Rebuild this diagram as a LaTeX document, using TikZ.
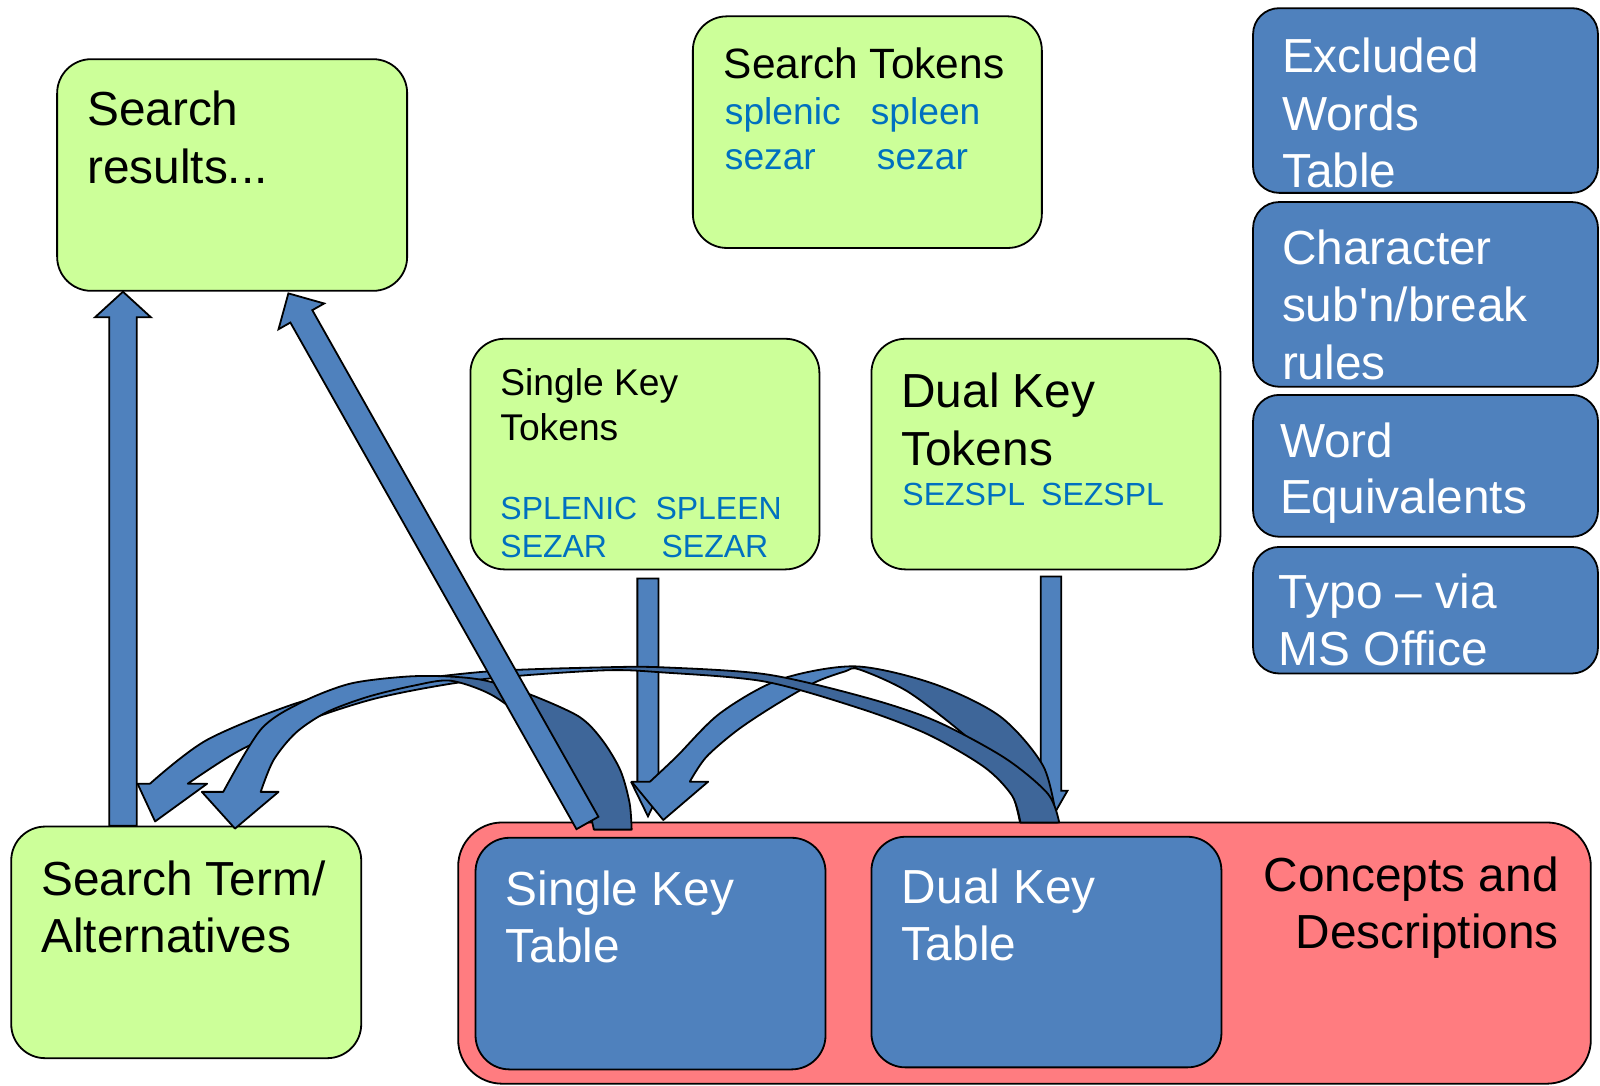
\documentclass[tikz,border=0pt]{standalone}
\usepackage{fontspec}
\setmainfont{Liberation Sans}
\usetikzlibrary{calc,fit}
\definecolor{gfill}{HTML}{CCFF99}
\definecolor{bfill}{HTML}{4F81BD}
\definecolor{dfill}{HTML}{3E6699}
\definecolor{pfill}{HTML}{FF7C80}
\definecolor{tblue}{HTML}{0070C0}
\newcommand\fbig{\fontsize{23.9}{28}\selectfont}
\newcommand\fmid{\fontsize{21.2}{25}\selectfont}
\newcommand\fsml{\fontsize{18.6}{22}\selectfont}
\newcommand\fcap{\fontsize{16}{19}\selectfont}
\tikzset{
  box/.style={draw=black, line width=0.9pt, inner sep=0pt, rounded corners=17pt},
  gbox/.style={box, fill=gfill},
  bbox/.style={box, fill=bfill, rounded corners=13pt},
  pbox/.style={box, fill=pfill, rounded corners=22pt},
  tbox/.style={box, fill=bfill},
  txt/.style={anchor=base west, inner sep=0pt, font=\fbig},
  wtxt/.style={txt, text=white},
  btxt/.style={txt, text=tblue},
  outl/.style={draw=black, line width=0.9pt, line join=round},
  barrow/.style={draw=black, line width=0.9pt, fill=bfill, line join=miter}
}
% #1 start, #2 tip, #3 half shaft, #4 half head, #5 head length
\newcommand\blockarrow[5]{%
  \coordinate (abase) at ($(#2)!#5!(#1)$);
  \filldraw[barrow] ($(#1)!#3!90:(#2)$) -- ($(abase)!#3!-90:(#1)$) -- ($(abase)!#4!-90:(#1)$)
    -- (#2) -- ($(abase)!#4!90:(#1)$) -- ($(abase)!#3!90:(#1)$) -- ($(#1)!#3!-90:(#2)$) -- cycle;
}
% #1 path macro, #2 clip region of the darker back face
\newcommand\curvedarrow[2]{%
  \fill[bfill] #1;
  \begin{scope}\clip #2; \fill[dfill] #1; \end{scope}
  \draw[outl] #1;
}
\def\pathCthree{plot[smooth] coordinates {(1036,806) (1022.5,751) (980,702) (914.7,670) (838,653) (764,666) (705.6,699) (663,741.5) (637,766)}
  -- (619,766) -- (650,803.6) -- (694,766) -- (676,766)
  -- plot[smooth] coordinates {(676,766) (692,742) (722,716) (758,692) (798,669) (828,658) (842,656) (890,678) (945,720) (972,748) (992,778) (999.6,806)} -- cycle}
\def\pathCtwo{plot[smooth] coordinates {(1038,806) (1027,778) (985,743) (918,707) (850,684) (752,661) (650,654) (590,654) (478,658) (378,670) (294,688) (203,725) (147,768)}
  -- (134.8,768) -- (152,805) -- (203,768) -- (184,768)
  -- plot[smooth] coordinates {(184,768) (232,737) (290,710) (370,684) (470,666) (590,657) (650,659) (750,668) (845,695) (910,720) (965,752) (992,780) (1000,806)} -- cycle}
\def\pathCone{plot[smooth] coordinates {(619,813) (617,787) (608,755) (590,725) (567,702) (518,680) (476,667) (441,663) (399,663) (343,670) (294,689) (255.5,715) (218.8,776)}
  -- (197.8,776) -- (230.3,812) -- (273,776) -- (255.5,776)
  -- plot[smooth] coordinates {(255.5,776) (268,745) (290,718) (320,698) (360,683) (405,672) (441,667) (480,680) (515,705) (543,733) (562,760) (575,786) (582,813)} -- cycle}
\begin{document}
\begin{tikzpicture}[x=0.5102pt, y=-0.5102pt]
\useasboundingbox (0,0) rectangle (1568,1064);
% boxes
\node[gbox, fit={(56,58) (399,285)}] (SR) {};
\node[gbox, fit={(679,16) (1021,243)}] (ST) {};
\node[gbox, fit={(461,332) (803,558)}] (SKT) {};
\node[gbox, fit={(854,332) (1196,558)}] (DKT) {};
\node[bbox, fit={(1228,8) (1566,189)}] (EX) {};
\node[bbox, fit={(1228,198) (1566,379)}] (CH) {};
\node[bbox, fit={(1228,387) (1566,526)}] (WE) {};
\node[bbox, fit={(1228,536) (1566,660)}] (TY) {};
\node[gbox, fit={(11,810) (354,1037)}] (STA) {};
\node[pbox, fit={(449,806) (1559,1062)}] (PK) {};
\node[tbox, fit={(466,821) (809,1048)}] (SKTab) {};
\node[tbox, fit={(854,820) (1197,1046)}] (DKTab) {};
% texts
\node[txt] (sr1) at (85,123) {Search};
\node[txt] (sr2) at (85,180) {results...};
\node[txt, font=\fmid] (st1) at (709,76.8) {Search Tokens};
\node[btxt, font=\fsml] (st2) at (710,122) {splenic};
\node[btxt, font=\fsml] (st3) at (853,122) {spleen};
\node[btxt, font=\fsml] (st4) at (710,166) {sezar};
\node[btxt, font=\fsml] (st5) at (859,166) {sezar};
\node[txt, font=\fsml] (sk1) at (490,388) {Single Key};
\node[txt, font=\fsml] (sk2) at (490,431.2) {Tokens};
\node[btxt, font=\fcap] (sk3) at (490,509) {SPLENIC};
\node[btxt, font=\fcap] (sk4) at (642,509) {SPLEEN};
\node[btxt, font=\fcap] (sk5) at (490,546.2) {SEZAR};
\node[btxt, font=\fcap] (sk6) at (648,546.2) {SEZAR};
\node[txt] (dk1) at (883,399.2) {Dual Key};
\node[txt] (dk2) at (883,455.7) {Tokens};
\node[btxt, font=\fcap] (dk3) at (884,495.6) {SEZSPL};
\node[btxt, font=\fcap] (dk4) at (1020,495.6) {SEZSPL};
\node[wtxt] (ex1) at (1256,71.2) {Excluded};
\node[wtxt] (ex2) at (1256,128) {Words};
\node[wtxt] (ex3) at (1256,183.6) {Table};
\node[wtxt] (ch1) at (1256,259.3) {Character};
\node[wtxt] (ch2) at (1256,315.3) {sub\textquotesingle n/break};
\node[wtxt] (ch3) at (1256,372) {rules};
\node[wtxt] (we1) at (1254,448.8) {Word};
\node[wtxt] (we2) at (1254,503.5) {Equivalents};
\node[wtxt] (ty1) at (1253,596) {Typo – via};
\node[wtxt] (ty2) at (1253,652) {MS Office};
\node[txt] (sa1) at (40,877.1) {Search Term/};
\node[txt] (sa2) at (40,933.6) {Alternatives};
\node[wtxt] (skt1) at (495,887) {Single Key};
\node[wtxt] (skt2) at (495,943.4) {Table};
\node[wtxt] (dkt1) at (883.5,885.3) {Dual Key};
\node[wtxt] (dkt2) at (883.5,941.5) {Table};
\node[txt, anchor=base east] (cd1) at (1528,873.8) {Concepts and};
\node[txt, anchor=base east] (cd2) at (1528,929.4) {Descriptions};
% straight block arrows: end points on the boxes
\coordinate (a1s) at (120.5,0 |- STA.north);
\coordinate (a1t) at (120.5,0 |- SR.south);
\coordinate (a2s) at (575.7,806.5);
\coordinate (a2t) at (282.6,287.5);
\coordinate (a3s) at (635,567);
\coordinate (a3t) at (635,800);
\coordinate (a4s) at (1030,565);
\coordinate (a4t) at (1030,803);
\blockarrow{a3s}{a3t}{5.3pt}{8.2pt}{16.8pt}
\blockarrow{a4s}{a4t}{5.1pt}{8.2pt}{14.3pt}
% curved block arrows
\curvedarrow{\pathCthree}{(840,600) rectangle (1100,830)}
\curvedarrow{\pathCtwo}{(590,600) rectangle (1100,830)}
\curvedarrow{\pathCone}{(441,600) rectangle (700,830)}
\blockarrow{a1s}{a1t}{6.9pt}{14pt}{12.8pt}
\blockarrow{a2s}{a2t}{6.3pt}{13.1pt}{13.2pt}
\end{tikzpicture}
\end{document}
